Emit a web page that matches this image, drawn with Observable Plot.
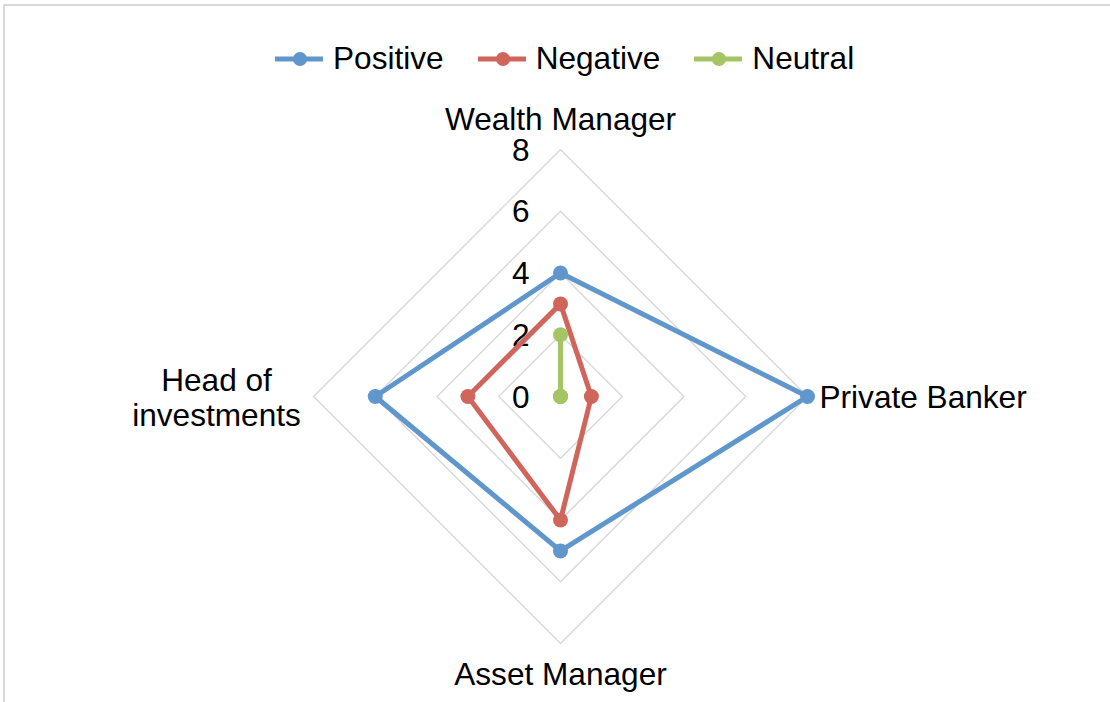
<!DOCTYPE html>
<html><head><meta charset="utf-8">
<script src="https://cdn.jsdelivr.net/npm/d3@7"></script>
<script src="https://cdn.jsdelivr.net/npm/@observablehq/plot@0.6"></script>
<style>
body{margin:0;background:#fff;font-family:"Liberation Sans",Arial,sans-serif;}
#wrap{position:relative;width:1110px;height:702px;overflow:hidden;background:#fff;}
#frame{position:absolute;left:3px;top:4px;width:1300px;height:900px;border-top:2px solid #d9d9d9;border-left:2px solid #d9d9d9;}
#chart{position:absolute;left:0;top:0;}
#legend{position:absolute;top:40px;left:275px;display:flex;align-items:center;gap:34px;font-size:31.6px;color:#000;white-space:nowrap;}
.item{display:flex;align-items:center;gap:10px;}
.item svg{display:block;}
</style>
</head><body>
<div id="wrap"><div id="frame"></div><div id="chart"></div><div id="legend"></div></div>
<script>
const categories = ["Wealth Manager","Private Banker","Asset Manager","Head of investments"];
const positive = [4, 8, 5, 6];
const negative = [3, 1, 4, 3];
const neutral  = [2, 0, 0, 0];
const seriesNames = ["Positive","Negative","Neutral"];
const seriesColors = ["#5f96cc","#d0655c","#a5c463"];
const tickValues = [0, 2, 4, 6, 8];

const seriesValues = [positive, negative, neutral];
const n = categories.length;
const angle = i => 2 * Math.PI * i / n;
const px = (r, i) => r * Math.sin(angle(i));
const py = (r, i) => r * Math.cos(angle(i));

const rows = [];
seriesNames.forEach((s, si) => seriesValues[si].forEach((v, i) => rows.push({series: s, cat: categories[i], i, value: v})));
const gridRows = [];
tickValues.filter(t => t > 0).forEach(t => categories.forEach((c, i) => gridRows.push({t, i})));

const k = 247 / 8; // pixels per unit
const cx = 560, cy = 396, W = 1110, H = 702;
const fs = 31.6;

const chart = Plot.plot({
  width: W, height: H, margin: 0,
  x: {domain: [-cx / k, (W - cx) / k], axis: null},
  y: {domain: [-(H - cy) / k, cy / k], axis: null},
  color: {domain: seriesNames, range: seriesColors},
  style: {fontFamily: '"Liberation Sans", Arial, sans-serif', fontSize: fs + "px", background: "transparent", color: "#000"},
  marks: [
    Plot.line(gridRows, {x: d => px(d.t, d.i), y: d => py(d.t, d.i), z: "t", curve: "linear-closed", stroke: "#d9d9d9", strokeWidth: 1.5}),
    Plot.text(tickValues, {x: d => 0, y: d => d, text: d => String(d), textAnchor: "end", dx: -31, dy: 1, fontSize: fs, fill: "#000"}),
    Plot.line(rows, {x: d => px(d.value, d.i), y: d => py(d.value, d.i), z: "series", stroke: "series", curve: "linear-closed", strokeWidth: 5, strokeLinejoin: "round"}),
    Plot.dot(rows, {x: d => px(d.value, d.i), y: d => py(d.value, d.i), fill: "series", r: 7.5}),
    Plot.text([categories[0]], {x: d => px(8, 0), y: d => py(8, 0), text: d => d, dy: -30, fontSize: fs, fill: "#000"}),
    Plot.text([categories[1]], {x: d => px(8, 1), y: d => py(8, 1), text: d => d, textAnchor: "start", dx: 12, dy: 1, fontSize: fs, fill: "#000"}),
    Plot.text([categories[2]], {x: d => px(8, 2), y: d => py(8, 2), text: d => d, dy: 31, fontSize: fs, fill: "#000"}),
    Plot.text([categories[3]], {x: d => px(8, 3), y: d => py(8, 3), text: d => "Head of\ninvestments", dx: -97, dy: 1, lineHeight: 1.11, fontSize: fs, fill: "#000"})
  ]
});
document.getElementById("chart").append(chart);

const legend = document.getElementById("legend");
seriesNames.forEach((s, i) => {
  const item = document.createElement("div");
  item.className = "item";
  item.innerHTML = `<svg width="48" height="16"><line x1="0" y1="8" x2="48" y2="8" stroke="${seriesColors[i]}" stroke-width="5"/><circle cx="25" cy="8" r="7" fill="${seriesColors[i]}"/></svg><span>${s}</span>`;
  legend.append(item);
});
</script>
</body></html>
